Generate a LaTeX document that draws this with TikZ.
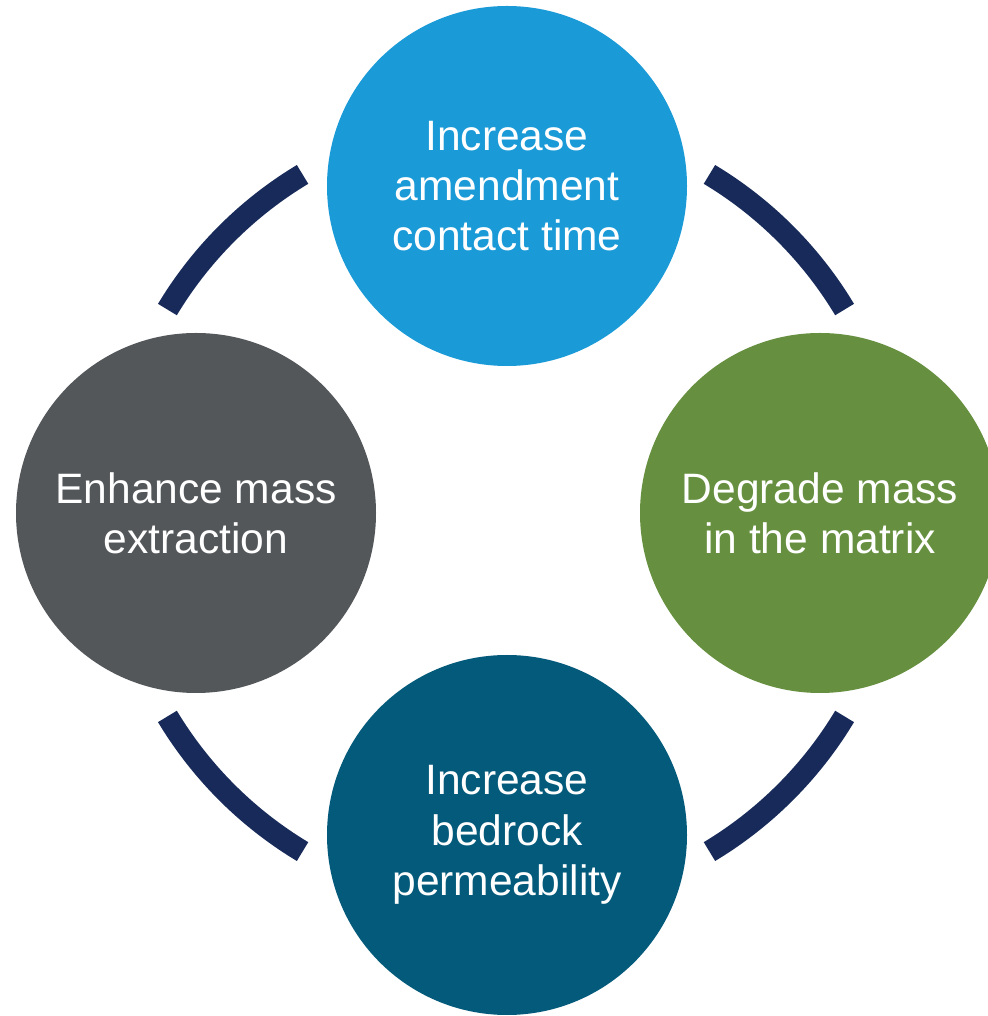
\documentclass[tikz,border=0pt]{standalone}
\usepackage{fontspec}
\setmainfont{Liberation Sans}
\definecolor{skyblue}{HTML}{1A9AD7}
\definecolor{leafgreen}{HTML}{66903F}
\definecolor{deepteal}{HTML}{045A7A}
\definecolor{slategrey}{HTML}{53575A}
\definecolor{ringnavy}{HTML}{172A5A}
\begin{document}
\begin{tikzpicture}[
    every node/.style={
        circle, inner sep=0pt, minimum size=7.2cm, align=center,
        text=white, font=\fontsize{24.2}{28.6}\selectfont
    },
    ring/.style={line width=0.44cm, ringnavy}
]
  \useasboundingbox (0,0) rectangle (19.74,20.32);
  \coordinate (hub) at (10.12,10.06);

  % Ring segments between the circles
  \foreach \a in {31,121,211,301}
    \draw[ring] (hub) ++(\a:7.9cm) arc[start angle=\a, end angle=\a+28, radius=7.9cm];

  % Circles around the ring
  \node[fill=skyblue]    (contact)  at (10.14,16.60) {Increase\\amendment\\contact time};
  \node[fill=leafgreen]  (degrade)  at (16.40,10.06) {Degrade mass\\in the matrix};
  \node[fill=deepteal]   (bedrock)  at (10.14,3.62)  {Increase\\bedrock\\permeability};
  \node[fill=slategrey]  (extract)  at (3.92,10.06)  {Enhance mass\\extraction};
\end{tikzpicture}
\end{document}
